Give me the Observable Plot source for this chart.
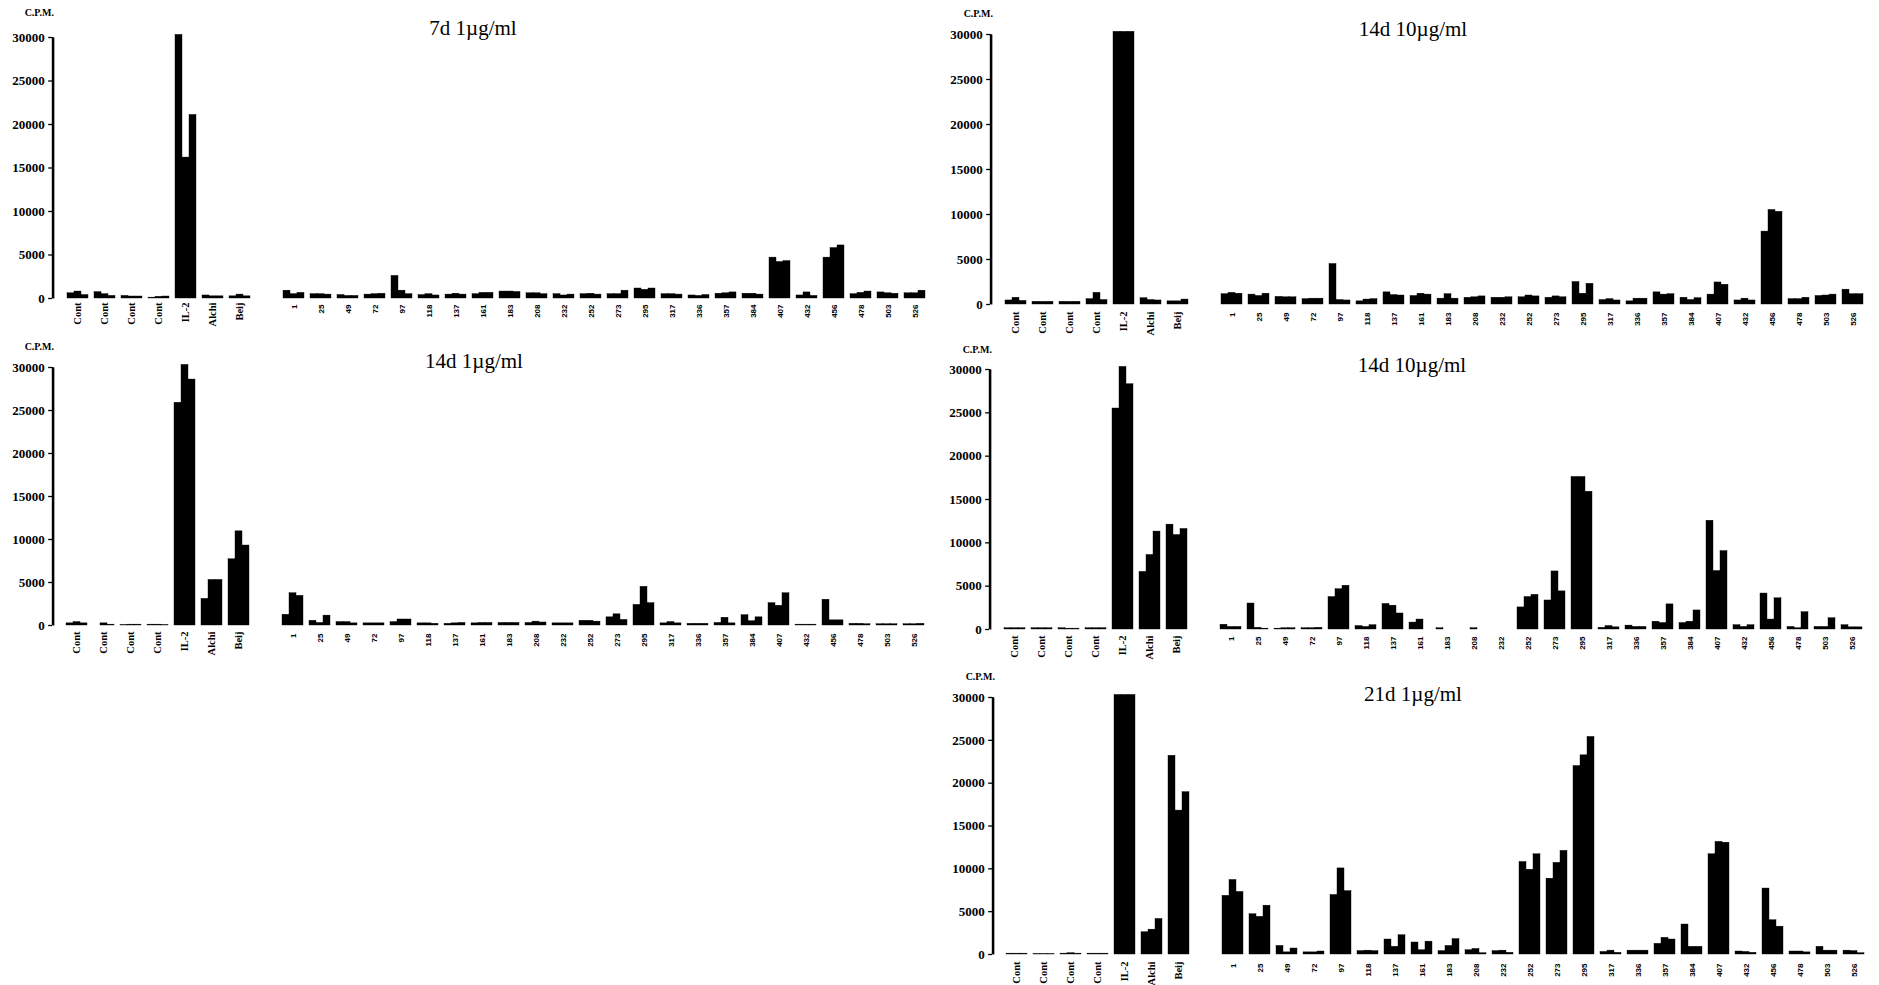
<!DOCTYPE html>
<html><head><meta charset="utf-8">
<script src="https://cdn.jsdelivr.net/npm/d3@7"></script>
<script src="https://cdn.jsdelivr.net/npm/@observablehq/plot@0.6"></script>
<style>
html,body{margin:0;padding:0;background:#fff;}
#root{position:relative;width:1879px;height:985px;overflow:hidden;background:#fff;}
.panel{position:absolute;}
.panel svg{max-width:none !important;display:block;}
.title{position:absolute;font-family:"Liberation Serif","Times New Roman",serif;font-size:21px;line-height:21px;width:400px;text-align:center;color:#000;white-space:nowrap;}
.cpm{position:absolute;font-family:"Liberation Serif","Times New Roman",serif;font-weight:bold;font-size:10px;line-height:10px;width:80px;text-align:right;color:#000;white-space:nowrap;}
</style></head><body><div id="root"></div>
<script>
// ---------- categories / labels ----------
const controlLabels = ["Cont","Cont","Cont","Cont","IL-2","Alchi","Beij"];
const controlKeys = ["Cont1","Cont2","Cont3","Cont4","IL-2","Alchi","Beij"];
const peptideLabels = ["1","25","49","72","97","118","137","161","183","208","232","252","273","295","317","336","357","384","407","432","456","478","503","526"];
const yTicks = [0,5000,10000,15000,20000,25000,30000];
const yLabel = "C.P.M.";
const panelTitles = ["7d 1µg/ml","14d 10µg/ml","14d 1µg/ml","14d 10µg/ml","21d 1µg/ml"];

// ---------- values (triplicates, C.P.M.) ----------
const d7_1ug_controls = [[600,800,400],[730,500,300],[300,230,230],[100,200,230],[30300,16200,21100],[350,250,250],[250,450,250]];
const d7_1ug_peptides = [[900,500,650],[500,500,450],[400,300,300],[450,500,550],[2600,900,500],[400,500,350],[450,550,450],[500,650,650],[800,800,750],[600,600,500],[500,350,450],[500,550,450],[500,500,900],[1150,1000,1150],[500,500,450],[350,300,400],[550,600,700],[550,550,450],[4700,4200,4300],[350,700,300],[4700,5800,6100],[500,650,800],[700,600,550],[600,600,900]];

const d14_10ugA_controls = [[450,750,400],[300,300,300],[300,300,300],[600,1300,500],[30300,30300,30300],[700,500,450],[350,350,550]];
const d14_10ugA_peptides = [[1150,1300,1200],[1100,950,1200],[850,800,800],[600,650,650],[4500,500,450],[350,550,600],[1350,1050,1000],[950,1200,1100],[650,1150,650],[750,800,900],[750,750,800],[800,1000,900],[750,900,800],[2500,1200,2300],[500,600,450],[350,650,650],[1350,1100,1150],[750,500,700],[1100,2450,2200],[450,650,450],[8100,10500,10300],[600,600,750],[950,1000,1100],[1650,1150,1150]];

const d14_1ug_controls = [[250,400,250],[0,250,100],[50,100,100],[100,100,50],[25900,30300,28600],[3100,5300,5300],[7700,10950,9300]];
const d14_1ug_peptides = [[1250,3750,3450],[550,300,1150],[400,400,250],[250,250,250],[400,700,700],[250,250,200],[200,250,300],[250,300,300],[300,300,300],[300,450,350],[250,250,250],[550,550,450],[950,1300,650],[2400,4500,2600],[250,400,250],[200,200,200],[300,900,250],[1200,500,950],[2600,2300,3750],[100,100,100],[3000,600,600],[200,200,150],[150,150,150],[150,150,200]];

const d14_10ugB_controls = [[150,150,150],[150,150,150],[150,100,100],[150,150,150],[25500,30300,28300],[6650,8600,11300],[12100,10900,11600]];
const d14_10ugB_peptides = [[550,300,300],[3000,200,100],[100,150,150],[150,150,200],[3750,4650,5050],[400,300,500],[2950,2750,1850],[800,1150,0],[150,0,0],[0,150,0],[0,0,0],[2550,3750,4000],[3350,6700,4400],[17600,17600,15900],[200,400,250],[450,300,300],[900,750,2900],[750,900,2200],[12550,6750,9050],[500,300,500],[4150,1150,3600],[300,150,2000],[300,300,1300],[500,250,250]];

const d21_1ug_controls = [[100,100,100],[50,50,50],[100,150,100],[100,100,100],[30300,30300,30300],[2600,2900,4150],[23200,16800,18950]];
const d21_1ug_peptides = [[6850,8700,7300],[4700,4400,5700],[1000,250,700],[250,250,350],[6950,10050,7400],[400,450,400],[1750,900,2250],[1400,500,1500],[400,1000,1800],[500,650,150],[400,450,200],[10800,9900,11700],[8850,10700,12100],[22000,23250,25400],[300,450,200],[450,450,450],[1250,1950,1750],[3500,900,900],[11700,13150,13050],[350,300,200],[7700,4000,3250],[350,350,250],[900,450,450],[450,400,150]];

const panelControls = [d7_1ug_controls, d14_10ugA_controls, d14_1ug_controls, d14_10ugB_controls, d21_1ug_controls];
const panelPeptides = [d7_1ug_peptides, d14_10ugA_peptides, d14_1ug_peptides, d14_10ugB_peptides, d21_1ug_peptides];

// ---------- layout ----------
const layouts = [
  {left:0,   top:0,   width:945, height:325, mL:56, mR:8,  mT:37, mB:27, tx:473,  tb:36,  cx:54,  cb:16,  cPad:4, nPad:6},
  {left:940, top:0,   width:939, height:330, mL:54, mR:5,  mT:34, mB:26, tx:1413, tb:37,  cx:993, cb:17,  cPad:7, nPad:8},
  {left:0,   top:330, width:945, height:322, mL:56, mR:10, mT:37, mB:27, tx:474,  tb:369, cx:54,  cb:350, cPad:6, nPad:8},
  {left:940, top:330, width:939, height:326, mL:53, mR:5,  mT:39, mB:27, tx:1412, tb:373, cx:992, cb:353, cPad:6, nPad:7},
  {left:940, top:660, width:939, height:325, mL:56, mR:5,  mT:37, mB:31, tx:1413, tb:702, cx:995, cb:680, cPad:7, nPad:9}
];
const fxPadding = 0.13;
const axisGap = 3;
const axisLineWidth = 1.7;

const root = document.getElementById("root");
const fxDomain = [...controlKeys, "gap", ...peptideLabels];
const ctrlName = new Map(controlKeys.map((k, i) => [k, controlLabels[i]]));
const serif = "Liberation Serif, Times New Roman, serif";

function place(node, left, top, w, h) {
  const holder = document.createElement("div");
  holder.className = "panel";
  holder.style.left = left + "px";
  holder.style.top = top + "px";
  holder.style.width = w + "px";
  holder.style.height = h + "px";
  holder.appendChild(node);
  root.appendChild(holder);
}

panelTitles.forEach((title, i) => {
  const L = layouts[i];
  const rows = [];
  panelControls[i].forEach((trip, g) => trip.forEach((v, r) => rows.push({key: controlKeys[g], rep: r, value: v})));
  panelPeptides[i].forEach((trip, g) => trip.forEach((v, r) => rows.push({key: peptideLabels[g], rep: r, value: v})));

  // bars, faceted by stimulus / peptide (fx), replicate within each group (x)
  const chart = Plot.plot({
    width: L.width, height: L.height,
    marginLeft: L.mL, marginRight: L.mR, marginTop: L.mT, marginBottom: L.mB,
    style: {background: "transparent", overflow: "visible", color: "#000"},
    fx: {domain: fxDomain, paddingInner: fxPadding, paddingOuter: 0, label: null},
    x: {domain: [0, 1, 2], padding: 0, axis: null},
    y: {domain: [0, 30000], axis: null},
    marks: [
      Plot.barY(rows, {fx: "key", x: "rep", y: "value", fill: "#000", stroke: "#000", strokeWidth: 0.4}),
      Plot.axisFx({anchor: "bottom", ticks: controlKeys, tickFormat: k => ctrlName.get(k), tickRotate: -90, tickSize: 0,
        tickPadding: L.cPad, fontFamily: serif, fontSize: 10.5, fontWeight: "bold", label: null}),
      Plot.axisFx({anchor: "bottom", ticks: peptideLabels, tickRotate: -90, tickSize: 0, tickPadding: L.nPad,
        fontFamily: "Liberation Sans, Arial, sans-serif", fontSize: 8, fontWeight: "bold", label: null})
    ]
  });
  place(chart, L.left, L.top, L.width, L.height);

  // y axis: a narrow plot whose filled frame is the axis line, same vertical scale as the bars
  const axisX = L.mL - axisGap;
  const yAxis = Plot.plot({
    width: axisX + 20, height: L.height,
    marginLeft: axisX - axisLineWidth / 2, marginRight: 20 - axisLineWidth / 2, marginTop: L.mT, marginBottom: L.mB,
    style: {background: "transparent", overflow: "visible", color: "#000"},
    x: {domain: [0, 1], axis: null},
    y: {domain: [0, 30000]},
    marks: [
      Plot.frame({fill: "#000", stroke: null}),
      Plot.ruleX([0], {y1: 0, y2: 30000, stroke: "#000", strokeWidth: axisLineWidth}),
      Plot.axisY({ticks: yTicks, tickFormat: d3.format("d"), tickSize: 4, tickPadding: 4,
        fontFamily: serif, fontSize: 13, fontWeight: "bold", label: null, stroke: "#000", strokeWidth: 1.3})
    ]
  });
  place(yAxis, L.left, L.top, axisX + 20, L.height);

  const t = document.createElement("div");
  t.className = "title";
  t.textContent = title;
  t.style.left = (L.tx - 200) + "px";
  t.style.top = (L.tb - 17.6) + "px";
  root.appendChild(t);

  const c = document.createElement("div");
  c.className = "cpm";
  c.textContent = yLabel;
  c.style.left = (L.cx - 80) + "px";
  c.style.top = (L.cb - 8.4) + "px";
  root.appendChild(c);
});
</script></body></html>
